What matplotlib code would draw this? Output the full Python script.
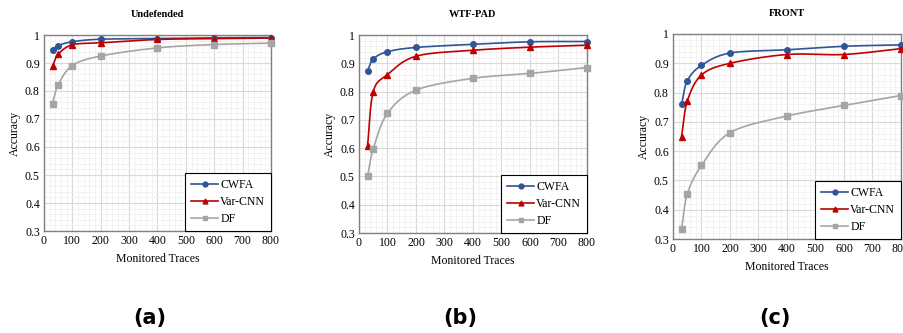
import numpy as np
import matplotlib
matplotlib.use("Agg")
import matplotlib.pyplot as plt
from matplotlib.ticker import MultipleLocator

traces = [30, 50, 100, 200, 400, 600, 800]
titles = ["Undefended", "WTF-PAD", "FRONT"]
panel_labels = ["(a)", "(b)", "(c)"]
series_names = ["CWFA", "Var-CNN", "DF"]

undef_cwfa = [0.948, 0.962, 0.976, 0.985, 0.987, 0.990, 0.991]
undef_varcnn = [0.889, 0.931, 0.965, 0.972, 0.984, 0.987, 0.989]
undef_df = [0.755, 0.822, 0.891, 0.925, 0.954, 0.966, 0.971]

wtf_cwfa = [0.873, 0.915, 0.941, 0.956, 0.967, 0.976, 0.977]
wtf_varcnn = [0.609, 0.800, 0.860, 0.925, 0.946, 0.957, 0.964]
wtf_df = [0.500, 0.598, 0.723, 0.805, 0.847, 0.864, 0.885]

front_cwfa = [0.760, 0.840, 0.893, 0.935, 0.946, 0.958, 0.963]
front_varcnn = [0.650, 0.770, 0.860, 0.900, 0.930, 0.930, 0.950]
front_df = [0.335, 0.453, 0.551, 0.663, 0.720, 0.756, 0.790]

data = [
    [undef_cwfa, undef_varcnn, undef_df],
    [wtf_cwfa, wtf_varcnn, wtf_df],
    [front_cwfa, front_varcnn, front_df],
]

colors = ["#2F5597", "#C00000", "#A5A5A5"]
markers = ["o", "^", "s"]


def smooth(x, y, n=30):
    # Bezier smooth curve through the data points (drawing only)
    x = np.asarray(x, float)
    y = np.asarray(y, float)
    px = np.concatenate([[2 * x[0] - x[1]], x, [2 * x[-1] - x[-2]]])
    py = np.concatenate([[2 * y[0] - y[1]], y, [2 * y[-1] - y[-2]]])
    xs, ys = [], []
    t = np.linspace(0, 1, n)
    tension = 1 / 6
    for i in range(1, len(px) - 2):
        p0 = np.array([px[i], py[i]])
        p3 = np.array([px[i + 1], py[i + 1]])
        c1 = p0 + tension * (np.array([px[i + 1], py[i + 1]]) - np.array([px[i - 1], py[i - 1]]))
        c2 = p3 - tension * (np.array([px[i + 2], py[i + 2]]) - np.array([px[i], py[i]]))
        b = ((1 - t) ** 3)[:, None] * p0 + (3 * (1 - t) ** 2 * t)[:, None] * c1 \
            + (3 * (1 - t) * t ** 2)[:, None] * c2 + (t ** 3)[:, None] * p3
        xs.extend(b[:, 0])
        ys.extend(b[:, 1])
    return xs, ys


plt.rcParams["font.family"] = ["Liberation Serif", "DejaVu Serif"]

fig = plt.figure(figsize=(9.04, 3.33), dpi=100)
W, H = 904, 333
boxes = [(44, 35, 271, 231), (359, 35, 587, 233), (673, 34, 901, 239)]
label_x = [150, 460, 775]

for k, (l, t, r, b) in enumerate(boxes):
    ax = fig.add_axes([l / W, 1 - b / H, (r - l) / W, (b - t) / H])
    ax.set_xlim(0, 800)
    ax.set_ylim(0.3, 1.0)
    ax.xaxis.set_major_locator(MultipleLocator(100))
    ax.xaxis.set_minor_locator(MultipleLocator(20))
    ax.yaxis.set_major_locator(MultipleLocator(0.1))
    ax.yaxis.set_minor_locator(MultipleLocator(0.02))
    ax.grid(which="major", color="#d9d9d9", lw=0.8)
    ax.grid(which="minor", color="#efefef", lw=0.5)
    ax.set_axisbelow(True)
    for s in ax.spines.values():
        s.set_color("#808080")
        s.set_linewidth(1.0)
    ax.tick_params(which="both", length=0, labelsize=8.5, pad=3)
    ax.set_yticks(np.arange(0.3, 1.001, 0.1))
    ax.set_yticklabels(["0.3", "0.4", "0.5", "0.6", "0.7", "0.8", "0.9", "1"])

    for j, ys in enumerate(data[k]):
        sx, sy = smooth(traces, ys)
        ax.plot(sx, sy, color=colors[j], lw=1.2, zorder=3)
        ax.plot(traces, ys, color=colors[j], lw=0, marker=markers[j], ms=4,
                zorder=4, clip_on=False)
        ax.plot([], [], color=colors[j], lw=1.2, marker=markers[j], ms=3.5,
                label=series_names[j])

    leg = ax.legend(loc="lower right", fontsize=8.5, frameon=True, fancybox=False,
                    borderaxespad=0.0, handlelength=2.3, labelspacing=0.42,
                    borderpad=0.5, handletextpad=0.15, framealpha=1)
    leg.get_frame().set_edgecolor("#000000")
    leg.get_frame().set_linewidth(0.8)
    leg._legend_box.align = "left"

    ax.set_title(titles[k], fontsize=7.5, fontweight="bold", pad=13)
    ax.set_xlabel("Monitored Traces", fontsize=8.5, labelpad=4)
    ax.set_ylabel("Accuracy", fontsize=8.5, labelpad=3)

    fig.text(label_x[k] / W, 1 - 318 / H, panel_labels[k], ha="center", va="center",
             fontsize=15, fontweight="bold", family=["DejaVu Sans"])

fig.savefig("out.png", dpi=100)
